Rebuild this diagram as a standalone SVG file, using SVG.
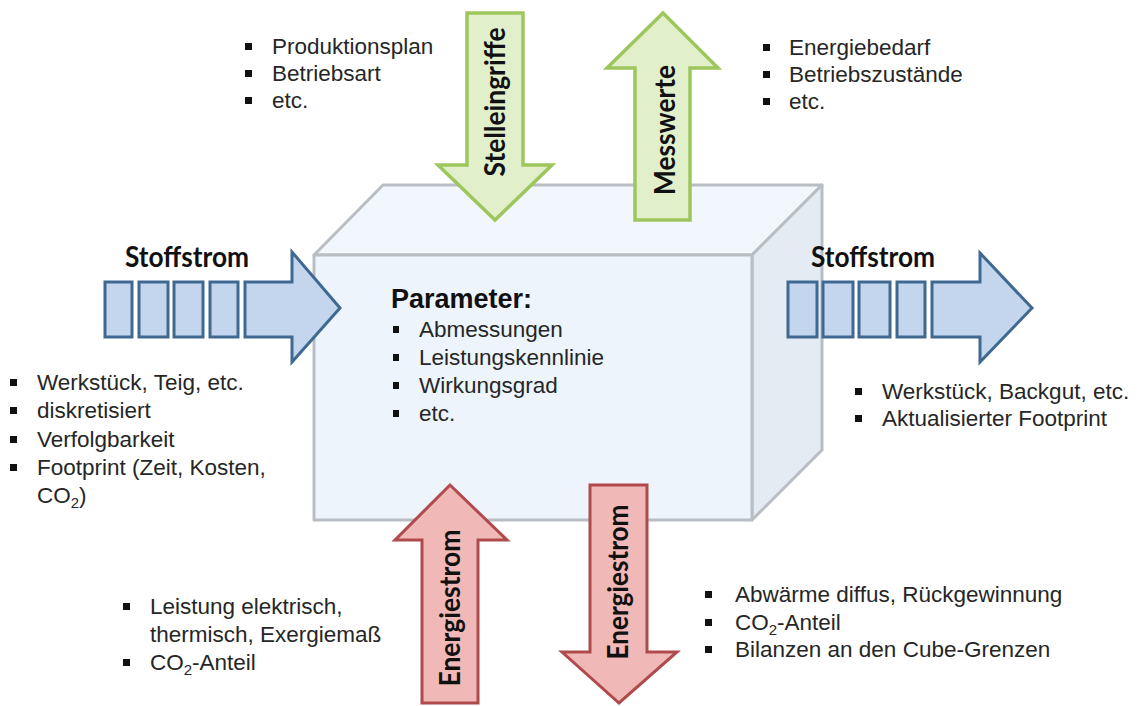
<svg xmlns="http://www.w3.org/2000/svg" width="1139" height="706" viewBox="0 0 1139 706">
<style>
.t{font-family:"Liberation Sans",Arial,sans-serif;font-size:22.5px;fill:#262626}
.pb{font-family:"Liberation Sans",Arial,sans-serif;font-size:27px;font-weight:bold;fill:#111}
.lb{font-family:Lato,"Open Sans",sans-serif;font-size:28px;font-weight:bold;fill:#111}
.b{fill:#111}
.cube{stroke:#b9bec4;stroke-width:3;stroke-linejoin:round}
.blue{fill:#c3d6ee;stroke:#3f6990;stroke-width:3;stroke-linejoin:miter}
.green{fill:#e2efcb;stroke:#9dc75d;stroke-width:3.5;stroke-linejoin:miter}
.red{fill:#f0b9b7;stroke:#b04a4c;stroke-width:3;stroke-linejoin:miter}
</style>
<rect width="1139" height="706" fill="#ffffff"/>
<g id="cube">
<polygon class="cube" fill="#f1f7fd" points="314,255 383,185 822,185 752,255"/>
<polygon class="cube" fill="#e4ebf3" points="752,255 822,185 822,450 752,520"/>
<rect class="cube" fill="#edf4fc" x="314" y="255" width="438" height="265"/>
<text class="pb" x="391" y="308">Parameter:</text>
<rect class="b" x="393" y="326" width="6" height="7"/>
<rect class="b" x="393" y="354" width="6" height="7"/>
<rect class="b" x="393" y="382" width="6" height="7"/>
<rect class="b" x="393" y="410" width="6" height="7"/>
<text class="t" x="419" y="337">Abmessungen</text>
<text class="t" x="419" y="365">Leistungskennlinie</text>
<text class="t" x="419" y="393">Wirkungsgrad</text>
<text class="t" x="419" y="421">etc.</text>
</g>
<g id="connectors">
<g id="stoffstrom-in">
<rect class="blue" x="105" y="282" width="27" height="55"/>
<rect class="blue" x="139" y="282" width="29" height="55"/>
<rect class="blue" x="174" y="282" width="29" height="55"/>
<rect class="blue" x="210" y="282" width="28" height="55"/>
<polygon class="blue" points="245,282 292,282 292,252 340,308 292,362 292,337 245,337"/>
<text class="lb" x="187" y="267" text-anchor="middle" textLength="124" lengthAdjust="spacingAndGlyphs">Stoffstrom</text>
</g>
<g id="stoffstrom-out">
<rect class="blue" x="788" y="282" width="29" height="55"/>
<rect class="blue" x="823" y="282" width="30" height="55"/>
<rect class="blue" x="859" y="282" width="31" height="55"/>
<rect class="blue" x="897" y="282" width="28" height="55"/>
<polygon class="blue" points="932,282 980,282 980,253 1032,308 980,362 980,337 932,337"/>
<text class="lb" x="873" y="267" text-anchor="middle" textLength="124" lengthAdjust="spacingAndGlyphs">Stoffstrom</text>
</g>
<g id="stelleingriffe">
<polygon class="green" points="467,13 523,13 523,165 552,165 495,220 438,165 467,165"/>
<text class="lb" x="505" y="102" text-anchor="middle" transform="rotate(-90 505 102)" textLength="149" lengthAdjust="spacingAndGlyphs">Stelleingriffe</text>
</g>
<g id="messwerte">
<polygon class="green" points="663,13 718,68 690,68 690,220 635,220 635,68 607,68"/>
<text class="lb" x="675" y="130" text-anchor="middle" transform="rotate(-90 675 130)" textLength="130" lengthAdjust="spacingAndGlyphs">Messwerte</text>
</g>
<g id="energiestrom-in">
<polygon class="red" points="450,485 507,540 478,540 478,703 422,703 422,540 395,540"/>
<text class="lb" x="460" y="608" text-anchor="middle" transform="rotate(-90 460 608)" textLength="157" lengthAdjust="spacingAndGlyphs">Energiestrom</text>
</g>
<g id="energiestrom-out">
<polygon class="red" points="590,485 647,485 647,652 677,652 619,703 562,652 590,652"/>
<text class="lb" x="628" y="582" text-anchor="middle" transform="rotate(-90 628 582)" textLength="155" lengthAdjust="spacingAndGlyphs">Energiestrom</text>
</g>
</g>
<g id="list-top-left">
<rect class="b" x="245" y="43" width="7" height="7"/>
<rect class="b" x="245" y="70" width="7" height="7"/>
<rect class="b" x="245" y="97" width="7" height="7"/>
<text class="t" x="272" y="54">Produktionsplan</text>
<text class="t" x="272" y="81">Betriebsart</text>
<text class="t" x="272" y="108">etc.</text>
</g>
<g id="list-top-right">
<rect class="b" x="763" y="44" width="7" height="7"/>
<rect class="b" x="763" y="71" width="7" height="7"/>
<rect class="b" x="763" y="98" width="7" height="7"/>
<text class="t" x="789" y="55">Energiebedarf</text>
<text class="t" x="789" y="82">Betriebszustände</text>
<text class="t" x="789" y="109">etc.</text>
</g>
<g id="list-left">
<rect class="b" x="10" y="379" width="7" height="7"/>
<rect class="b" x="10" y="407" width="7" height="7"/>
<rect class="b" x="10" y="436" width="7" height="7"/>
<rect class="b" x="10" y="464" width="7" height="7"/>
<text class="t" x="37" y="390">Werkstück, Teig, etc.</text>
<text class="t" x="37" y="418">diskretisiert</text>
<text class="t" x="37" y="447">Verfolgbarkeit</text>
<text class="t" x="37" y="475">Footprint (Zeit, Kosten,</text>
<text class="t" x="37" y="503">CO<tspan font-size="15" dy="5">2</tspan><tspan dy="-5">)</tspan></text>
</g>
<g id="list-right">
<rect class="b" x="855" y="388" width="7" height="7"/>
<rect class="b" x="855" y="415" width="7" height="7"/>
<text class="t" x="882" y="399">Werkstück, Backgut, etc.</text>
<text class="t" x="882" y="426">Aktualisierter Footprint</text>
</g>
<g id="list-bottom-left">
<rect class="b" x="123" y="603" width="7" height="7"/>
<rect class="b" x="123" y="659" width="7" height="7"/>
<text class="t" x="150" y="614">Leistung elektrisch,</text>
<text class="t" x="150" y="642">thermisch, Exergiemaß</text>
<text class="t" x="150" y="670">CO<tspan font-size="15" dy="5">2</tspan><tspan dy="-5">-Anteil</tspan></text>
</g>
<g id="list-bottom-right">
<rect class="b" x="705" y="591" width="7" height="7"/>
<rect class="b" x="705" y="619" width="7" height="7"/>
<rect class="b" x="705" y="646" width="7" height="7"/>
<text class="t" x="735" y="602">Abwärme diffus, Rückgewinnung</text>
<text class="t" x="735" y="630">CO<tspan font-size="15" dy="5">2</tspan><tspan dy="-5">-Anteil</tspan></text>
<text class="t" x="735" y="657">Bilanzen an den Cube-Grenzen</text>
</g>
</svg>
